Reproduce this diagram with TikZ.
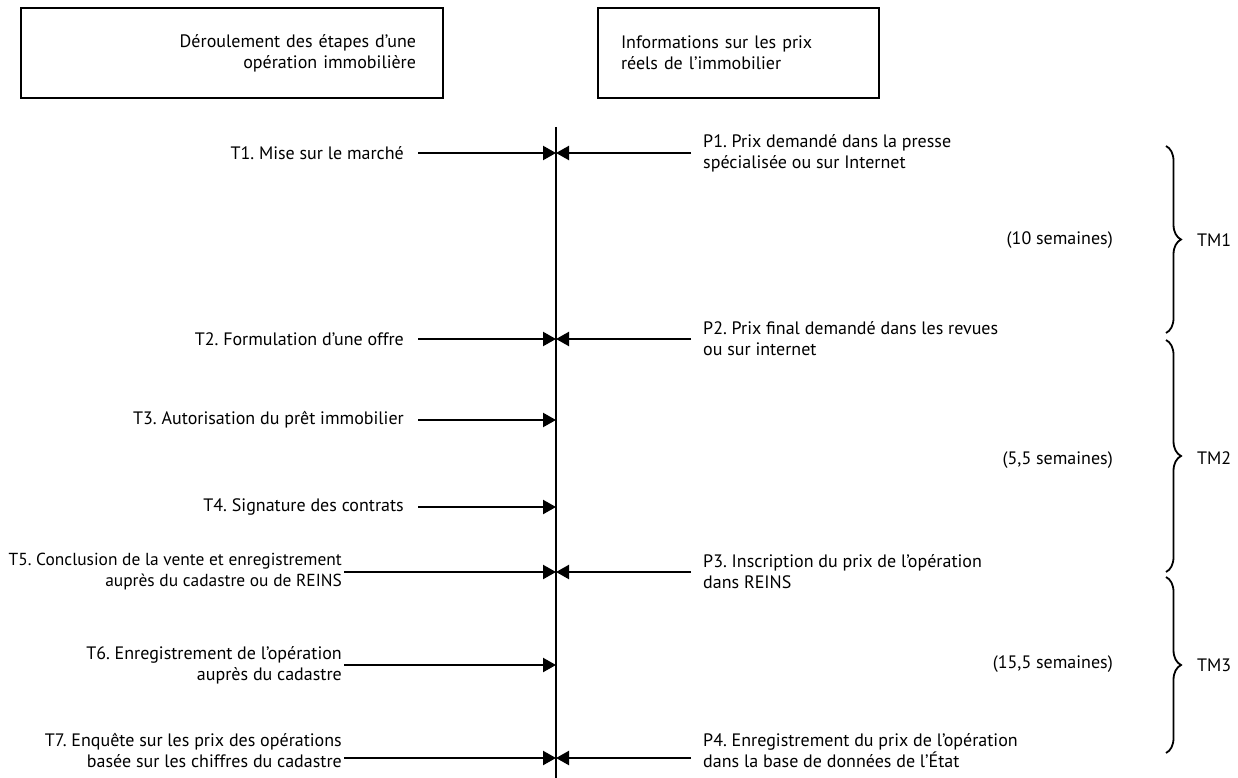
\documentclass[tikz,border=0pt]{standalone}
\usepackage{fontspec}
\setmainfont{PT Sans}
\frenchspacing
\usetikzlibrary{arrows.meta,decorations.pathreplacing}
\begin{document}
\begin{tikzpicture}[x=1pt,y=-1pt,
  every node/.style={font=\fontsize{18}{21}\selectfont, inner sep=0pt},
  hbox/.style={draw, line width=2pt, minimum height=90pt},
  ltext/.style={anchor=east, align=right},
  rtext/.style={anchor=west, align=left},
  arr/.style={line width=2.2pt, -{Triangle[length=13pt,width=14pt]}},
  brc/.style={line width=1.8pt, decorate, decoration={brace, amplitude=15pt}},
]
\useasboundingbox (0,0) rectangle (1238,778);

% header boxes
\node[hbox, anchor=north west, inner xsep=27pt, text width=368pt, align=right] (box1) at (20,7)
  {Déroulement des étapes d’une\\opération immobilière};
\node[hbox, anchor=north west, inner xsep=23pt, text width=235pt, align=left] (box2) at (597,7)
  {Informations sur les prix\\réels de l’immobilier};

% axis
\coordinate (top) at (556,127);
\coordinate (bot) at (556,778);
\draw[line width=2.2pt] (top) -- (bot);

% axis points
\coordinate (a1) at (556,153);
\coordinate (a2) at (556,339);
\coordinate (a3) at (556,420);
\coordinate (a4) at (556,507);
\coordinate (a5) at (556,572);
\coordinate (a6) at (556,665);
\coordinate (a7) at (556,758);

% left labels
\node[ltext] (t1) at (404,153) {T1. Mise sur le marché};
\node[ltext] (t2) at (404,339) {T2. Formulation d’une offre};
\node[ltext] (t3) at (404,420) {T3. Autorisation du prêt immobilier};
\node[ltext] (t4) at (404,507) {T4. Signature des contrats};
\node[ltext, font=\fontsize{17.4}{21}\selectfont] (t5) at (342,572) {T5. Conclusion de la vente et enregistrement\\auprès du cadastre ou de REINS};
\node[ltext] (t6) at (342,665) {T6. Enregistrement de l’opération\\auprès du cadastre};
\node[ltext] (t7) at (342,751) {T7. Enquête sur les prix des opérations\\basée sur les chiffres du cadastre};

\draw[arr] ([xshift=14pt]t1.east) -- (a1);
\draw[arr] ([xshift=14pt]t2.east) -- (a2);
\draw[arr] ([xshift=14pt]t3.east) -- (a3);
\draw[arr] ([xshift=14pt]t4.east) -- (a4);
\draw[arr] ([xshift=2pt]t5.east) -- (a5);
\draw[arr] ([xshift=2pt]t6.east) -- (a6);
\draw[arr] ([xshift=2pt]t7.east |- a7) -- (a7);

% right labels
\node[rtext] (p1) at (703,153) {P1. Prix demandé dans la presse\\spécialisée ou sur Internet};
\node[rtext] (p2) at (703,339) {P2. Prix final demandé dans les revues\\ou sur internet};
\node[rtext] (p3) at (703,572) {P3. Inscription du prix de l’opération\\dans REINS};
\node[rtext] (p4) at (703,751) {P4. Enregistrement du prix de l’opération\\dans la base de données de l’État};

\draw[arr] ([xshift=-12pt]p1.west) -- (a1);
\draw[arr] ([xshift=-12pt]p2.west) -- (a2);
\draw[arr] ([xshift=-12pt]p3.west) -- (a5);
\draw[arr] ([xshift=-12pt]p4.west |- a7) -- (a7);

% durations
\node[anchor=east] (d1) at (1113,240) {(10 semaines)};
\node[anchor=east] (d2) at (1113,460) {(5,5 semaines)};
\node[anchor=east] (d3) at (1113,664) {(15,5 semaines)};

% braces
\coordinate (b1t) at (1166,146);
\coordinate (b1b) at (1166,333);
\coordinate (b2t) at (1166,340);
\coordinate (b2b) at (1166,572);
\coordinate (b3t) at (1166,577);
\coordinate (b3b) at (1166,753);
\draw[brc] (b1t) -- (b1b);
\draw[brc] (b2t) -- (b2b);
\draw[brc] (b3t) -- (b3b);

\node[anchor=west] (tm1) at (1197,240) {TM1};
\node[anchor=west] (tm2) at (1197,458) {TM2};
\node[anchor=west] (tm3) at (1197,665) {TM3};
\end{tikzpicture}
\end{document}
